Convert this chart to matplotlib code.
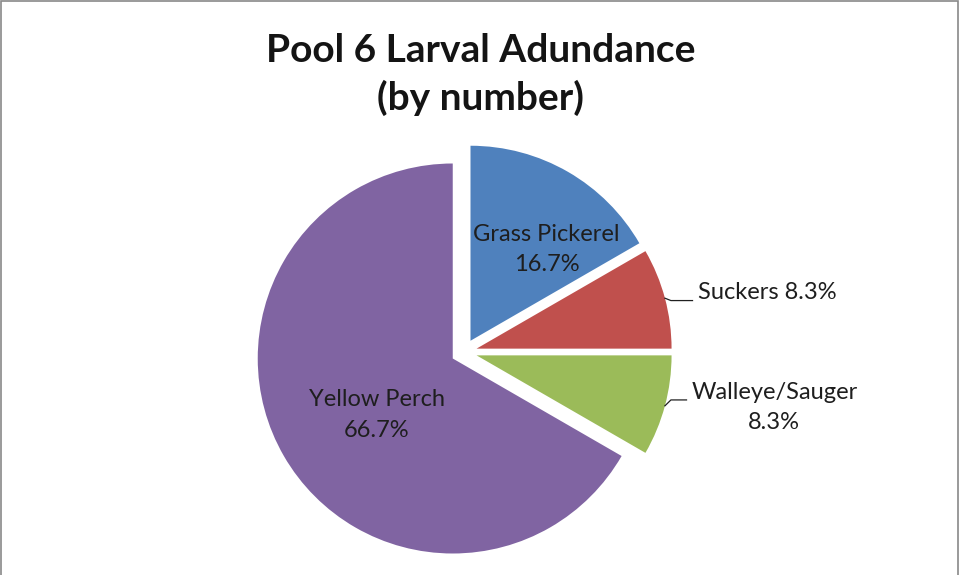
import numpy as np
import matplotlib.pyplot as plt
from matplotlib.patches import Rectangle

species = ['Grass Pickerel', 'Suckers', 'Walleye/Sauger', 'Yellow Perch']
counts = [2, 1, 1, 8]
colors = ['#4F81BD', '#C0504D', '#9BBB59', '#8064A2']
title_lines = ['Pool 6 Larval Adundance', '(by number)']

W, H = 961, 575
plt.rcParams['font.family'] = ['Lato', 'DejaVu Sans']
TXT = '#1e1e1e'
LBL = 17


def wedge_point(w, r_frac, dang=0.0):
    # point at a fraction of the radius, along the wedge's middle angle
    ang = np.deg2rad((w.theta1 + w.theta2) / 2 + dang)
    cx, cy = w.center
    return cx + w.r * r_frac * np.cos(ang), cy + w.r * r_frac * np.sin(ang)


fig = plt.figure(figsize=(W / 100, H / 100), dpi=100)
ax = fig.add_axes([0, 0, 1, 1])
wedges, _ = ax.pie(counts, colors=colors, startangle=90, counterclock=False,
                   radius=195, center=(464, 223), explode=[13] * len(counts),
                   wedgeprops=dict(linewidth=0))
ax.set_xlim(0, W)
ax.set_ylim(0, H)
ax.set_aspect('equal')
ax.axis('off')

total = sum(counts)
pct = ['{:.1f}%'.format(100 * c / total) for c in counts]

# labels inside the big slices
for i, (rf, da) in {0: (0.61, -9.8), 3: (0.485, 6.7)}.items():
    x, y = wedge_point(wedges[i], rf, da)
    ax.text(x, y, species[i] + '\n' + pct[i], ha='center', va='center',
            fontsize=LBL, color=TXT, linespacing=1.55)

# outside labels with leader lines
x, y = wedge_point(wedges[1], 1.0)
ax.plot([x, x + 6, x + 27.6], [y, y - 2.4, y - 2.4], color='#202020', lw=0.9)
ax.text(x + 33.3, y + 5.3, species[1] + ' ' + pct[1], ha='left', va='center',
        fontsize=LBL, color=TXT)

x, y = wedge_point(wedges[2], 1.0)
ax.plot([x, x + 6, x + 21.6], [y, y + 5.9, y + 5.9], color='#202020', lw=0.9)
ax.text(x + 26.3, y - 1.6, species[2] + '\n' + pct[2], ha='left', va='center',
        multialignment='center', fontsize=LBL, color=TXT, linespacing=1.5)

fig.text(480.5 / W, 1 - 62 / H, title_lines[0], ha='center', va='baseline',
         fontsize=28, fontweight='bold', color='#141414')
fig.text(480.5 / W, 1 - 110 / H, title_lines[1], ha='center', va='baseline',
         fontsize=28, fontweight='bold', color='#141414')

fig.patches.append(Rectangle((1 / W, -0.05), 957 / W, 1.05 - 1.5 / H,
                             transform=fig.transFigure, fill=False,
                             edgecolor='#898989', linewidth=1.2))

fig.savefig('out.png', dpi=100)
